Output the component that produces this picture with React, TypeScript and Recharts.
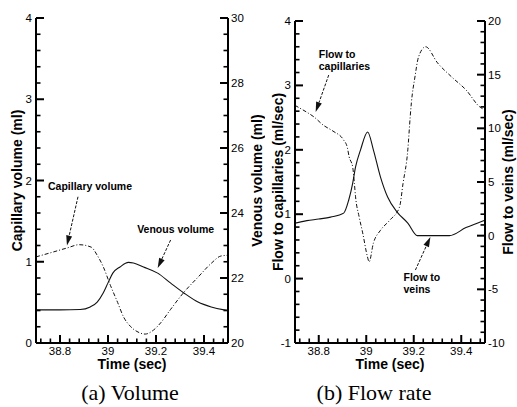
import React from "react";
import {
  ComposedChart,
  Line,
  XAxis,
  YAxis,
  ReferenceLine,
  ReferenceDot,
} from "recharts";

// ---------------------------------------------------------------------------
// Data
// ---------------------------------------------------------------------------

const TIME_DOMAIN: [number, number] = [38.7, 39.5];
const TIME_MAJOR = [38.8, 39, 39.2, 39.4];
const TIME_MINOR = [
  38.72, 38.76, 38.84, 38.88, 38.92, 38.96, 39.04, 39.08, 39.12, 39.16, 39.24,
  39.28, 39.32, 39.36, 39.44, 39.48,
];

// (a) volume
const CAP_VOL_DOMAIN: [number, number] = [0, 4];
const CAP_VOL_MAJOR = [0, 1, 2, 3, 4];
const CAP_VOL_MINOR = [
  0.2, 0.4, 0.6, 0.8, 1.2, 1.4, 1.6, 1.8, 2.2, 2.4, 2.6, 2.8, 3.2, 3.4, 3.6,
  3.8,
];
const VEN_VOL_DOMAIN: [number, number] = [20, 30];
const VEN_VOL_MAJOR = [20, 22, 24, 26, 28, 30];
const VEN_VOL_MINOR = [
  20.5, 21, 21.5, 22.5, 23, 23.5, 24.5, 25, 25.5, 26.5, 27, 27.5, 28.5, 29,
  29.5,
];

const capVolTime = [
  38.7, 38.76, 38.83, 38.88, 38.93, 38.955, 38.98, 39.01, 39.04, 39.065, 39.095,
  39.125, 39.155, 39.19, 39.22, 39.26, 39.315, 39.375, 39.43, 39.47, 39.5,
];
const capVolValue = [
  1.06, 1.11, 1.17, 1.21, 1.18, 1.08, 0.94, 0.71, 0.5, 0.32, 0.2, 0.135, 0.11,
  0.16, 0.25, 0.41, 0.62, 0.81, 0.98, 1.07, 1.08,
];

const venVolTime = [
  38.7, 38.8, 38.884, 38.926, 38.955, 38.98, 39.0, 39.02, 39.05, 39.085, 39.106,
  39.148, 39.207, 39.26, 39.316, 39.375, 39.43, 39.484, 39.5,
];
const venVolValue = [
  21.02, 21.02, 21.03, 21.11, 21.26, 21.54, 21.85, 22.15, 22.34, 22.48, 22.46,
  22.34, 22.15, 21.85, 21.54, 21.26, 21.11, 21.02, 21.0,
];

// (b) flow rate
const CAP_FLOW_DOMAIN: [number, number] = [-1, 4];
const CAP_FLOW_MAJOR = [-1, 0, 1, 2, 3, 4];
const CAP_FLOW_MINOR = [
  -0.8, -0.6, -0.4, -0.2, 0.2, 0.4, 0.6, 0.8, 1.2, 1.4, 1.6, 1.8, 2.2, 2.4, 2.6,
  2.8, 3.2, 3.4, 3.6, 3.8,
];
const VEN_FLOW_DOMAIN: [number, number] = [-10, 20];
const VEN_FLOW_MAJOR = [-10, -5, 0, 5, 10, 15, 20];
const VEN_FLOW_MINOR = [
  -9, -8, -7, -6, -4, -3, -2, -1, 1, 2, 3, 4, 6, 7, 8, 9, 11, 12, 13, 14, 16,
  17, 18, 19,
];

const capFlowTime = [
  38.7, 38.733, 38.78, 38.82, 38.86, 38.905, 38.92, 38.928, 38.943, 38.95,
  38.955, 38.97, 38.985, 39.005, 39.012, 39.03, 39.06, 39.1, 39.14, 39.155,
  39.175, 39.185, 39.19, 39.205, 39.22, 39.25, 39.3, 39.36, 39.42, 39.48, 39.5,
];
const capFlowValue = [
  2.69, 2.62, 2.51, 2.38, 2.29, 2.15, 2.04, 1.89, 1.73, 1.48, 1.27, 0.96, 0.71,
  0.34, 0.26, 0.55, 0.75, 0.91, 1.11, 1.48, 2.0, 2.51, 2.73, 3.13, 3.44, 3.6,
  3.35, 3.13, 2.93, 2.66, 2.62,
];

const venFlowTime = [
  38.7, 38.75, 38.8, 38.85, 38.905, 38.926, 38.943, 38.955, 38.976, 39.006,
  39.03, 39.06, 39.09, 39.13, 39.175, 39.215, 39.35, 39.42, 39.48, 39.5,
];
const venFlowValue = [
  1.17, 1.4, 1.55, 1.73, 2.1, 3.3, 4.9, 6.4, 8.0, 9.66, 8.0, 5.46, 3.6, 2.2,
  1.17, 0, 0, 0.75, 1.27, 1.45,
];

// ---------------------------------------------------------------------------
// Helpers
// ---------------------------------------------------------------------------

const SANS = "'Liberation Sans', Arial, Helvetica, sans-serif";
const SERIF = "'Liberation Serif', 'Times New Roman', serif";
const INK = "#111";
const TICK_INK = "#000";

const zip = (t: number[], v: number[]) => t.map((x, i) => ({ t: x, v: v[i] }));

const tickText = { fontFamily: SANS, fontSize: 11.5, fill: "#000" };
const axisTitle = { fontFamily: SANS, fontWeight: "bold", fontSize: 14, fill: "#000" };
const axisLine = { stroke: "#000", strokeWidth: 2 };

const LeftLabel = (p: any) => (
  <text x={p.x} y={p.y + 4} textAnchor="end" style={tickText}>
    {p.payload.value}
  </text>
);
const RightLabel = (p: any) => (
  <text x={p.x} y={p.y + 4} textAnchor="start" style={tickText}>
    {p.payload.value}
  </text>
);
const BottomLabel = (p: any) => (
  <text x={p.x} y={p.y + 12} textAnchor="middle" style={tickText}>
    {p.payload.value}
  </text>
);

// inward tick: a stub of fixed pixel length, drawn as a thin filled rectangle
function tickShape(len: number, width: number) {
  return (p: any) => {
    const x1 = Number(p.x1);
    const y1 = Number(p.y1);
    const x2 = Number(p.x2);
    const y2 = Number(p.y2);
    const horizontal = Math.abs(y2 - y1) < Math.abs(x2 - x1);
    if (horizontal) {
      const dir = x2 > x1 ? 1 : -1;
      const xa = dir > 0 ? x1 : x1 - len;
      return <rect x={xa} y={y1 - width / 2} width={len} height={width} fill={TICK_INK} />;
    }
    const dir = y2 > y1 ? 1 : -1;
    const ya = dir > 0 ? y1 : y1 - len;
    return <rect x={x1 - width / 2} y={ya} width={width} height={len} fill={TICK_INK} />;
  };
}
const MAJOR_TICK = tickShape(8, 2);
const MINOR_TICK = tickShape(4.5, 1.6);

type TickSet = { major: number[]; minor: number[] };

function frameTicks(leftDomain: [number, number], l: TickSet, r: TickSet) {
  const [t0, t1] = TIME_DOMAIN;
  const out: React.ReactNode[] = [];
  const add = (key: string, axis: string, a: any, b: any, major: boolean) =>
    out.push(
      <ReferenceLine
        key={key}
        yAxisId={axis}
        segment={[a, b]}
        ifOverflow="visible"
        shape={major ? MAJOR_TICK : MINOR_TICK}
      />,
    );
  l.major.forEach((v) => add("lM" + v, "left", { x: t0, y: v }, { x: t1, y: v }, true));
  l.minor.forEach((v) => add("lm" + v, "left", { x: t0, y: v }, { x: t1, y: v }, false));
  r.major.forEach((v) => add("rM" + v, "right", { x: t1, y: v }, { x: t0, y: v }, true));
  r.minor.forEach((v) => add("rm" + v, "right", { x: t1, y: v }, { x: t0, y: v }, false));
  TIME_MAJOR.forEach((t) =>
    add("bM" + t, "left", { x: t, y: leftDomain[0] }, { x: t, y: leftDomain[1] }, true),
  );
  TIME_MINOR.forEach((t) =>
    add("bm" + t, "left", { x: t, y: leftDomain[0] }, { x: t, y: leftDomain[1] }, false),
  );
  return out;
}

function Arrow(props: any) {
  const { x1, y1, x2, y2 } = props;
  const dx = x2 - x1;
  const dy = y2 - y1;
  const L = Math.hypot(dx, dy) || 1;
  const ux = dx / L;
  const uy = dy / L;
  const hl = 10;
  const hw = 3;
  const bx = x2 - ux * hl;
  const by = y2 - uy * hl;
  return (
    <g>
      <line x1={x1} y1={y1} x2={bx} y2={by} stroke={INK} strokeWidth={1} strokeDasharray="3 1.5" />
      <polygon
        points={`${x2},${y2} ${bx - uy * hw},${by + ux * hw} ${bx + uy * hw},${by - ux * hw}`}
        fill={INK}
      />
    </g>
  );
}

function makeNote(lines: string[], anchor: "start" | "middle") {
  return (props: any) => {
    const { cx, cy } = props;
    return (
      <text
        x={cx}
        y={cy}
        textAnchor={anchor}
        fontFamily={SANS}
        fontWeight="bold"
        fontSize={10.5}
        fill="#000"
      >
        {lines.map((s, i) => (
          <tspan key={s} x={cx} dy={i === 0 ? 0 : 12}>
            {s}
          </tspan>
        ))}
      </text>
    );
  };
}

function timeAxis() {
  return (
    <XAxis
      dataKey="t"
      type="number"
      domain={TIME_DOMAIN}
      ticks={TIME_MAJOR}
      interval={0}
      height={25}
      tickSize={0}
      tickMargin={0}
      tickLine={false}
      axisLine={axisLine}
      tick={BottomLabel}
      allowDataOverflow
    />
  );
}

function valueAxis(
  side: "left" | "right",
  domain: [number, number],
  ticks: number[],
  width: number,
  title: string,
  titleOffset: number,
) {
  return (
    <YAxis
      yAxisId={side}
      orientation={side}
      domain={domain}
      ticks={ticks}
      interval={0}
      width={width}
      tickSize={0}
      tickMargin={side === "left" ? 4 : 3}
      tickLine={false}
      axisLine={axisLine}
      tick={side === "left" ? LeftLabel : RightLabel}
      allowDataOverflow
      label={{
        value: title,
        angle: -90,
        position: side === "left" ? "insideLeft" : "insideRight",
        offset: titleOffset,
        style: { textAnchor: "middle" },
        ...axisTitle,
      }}
    />
  );
}

// ---------------------------------------------------------------------------
// Panels
// ---------------------------------------------------------------------------

function VolumeChart() {
  return (
    <ComposedChart width={265} height={368} margin={{ top: 18, right: 0, bottom: 0, left: 0 }}>
      {timeAxis()}
      {valueAxis("left", CAP_VOL_DOMAIN, CAP_VOL_MAJOR, 36, "Capillary volume (ml)", 17)}
      {valueAxis("right", VEN_VOL_DOMAIN, VEN_VOL_MAJOR, 37, "Venous volume (ml)", 8)}
      {frameTicks(
        CAP_VOL_DOMAIN,
        { major: CAP_VOL_MAJOR, minor: CAP_VOL_MINOR },
        { major: VEN_VOL_MAJOR, minor: VEN_VOL_MINOR },
      )}
      <Line
        yAxisId="left"
        data={zip(capVolTime, capVolValue)}
        dataKey="v"
        type="monotone"
        stroke={INK}
        strokeWidth={1}
        strokeDasharray="4 2 1 2"
        dot={false}
        isAnimationActive={false}
      />
      <Line
        yAxisId="right"
        data={zip(venVolTime, venVolValue)}
        dataKey="v"
        type="monotone"
        stroke={INK}
        strokeWidth={1.1}
        dot={false}
        isAnimationActive={false}
      />
      <ReferenceDot
        yAxisId="left"
        x={38.75}
        y={1.88}
        r={0}
        shape={makeNote(["Capillary volume"], "start")}
      />
      <ReferenceLine
        yAxisId="left"
        segment={[
          { x: 38.875, y: 1.8 },
          { x: 38.829, y: 1.2 },
        ]}
        shape={Arrow}
      />
      <ReferenceDot
        yAxisId="left"
        x={39.282}
        y={1.348}
        r={0}
        shape={makeNote(["Venous volume"], "middle")}
      />
      <ReferenceLine
        yAxisId="left"
        segment={[
          { x: 39.261, y: 1.268 },
          { x: 39.207, y: 0.923 },
        ]}
        shape={Arrow}
      />
    </ComposedChart>
  );
}

function FlowChart() {
  return (
    <ComposedChart width={255} height={368} margin={{ top: 21, right: 0, bottom: 0, left: 0 }}>
      {timeAxis()}
      {valueAxis("left", CAP_FLOW_DOMAIN, CAP_FLOW_MAJOR, 33, "Flow to capillaries (ml/sec)", 16)}
      {valueAxis("right", VEN_FLOW_DOMAIN, VEN_FLOW_MAJOR, 32, "Flow to veins (ml/sec)", 9)}
      {frameTicks(
        CAP_FLOW_DOMAIN,
        { major: CAP_FLOW_MAJOR, minor: CAP_FLOW_MINOR },
        { major: VEN_FLOW_MAJOR, minor: VEN_FLOW_MINOR },
      )}
      <Line
        yAxisId="left"
        data={zip(capFlowTime, capFlowValue)}
        dataKey="v"
        type="monotone"
        stroke={INK}
        strokeWidth={1}
        strokeDasharray="4 2 1 2"
        dot={false}
        isAnimationActive={false}
      />
      <Line
        yAxisId="right"
        data={zip(venFlowTime, venFlowValue)}
        dataKey="v"
        type="monotone"
        stroke={INK}
        strokeWidth={1.1}
        dot={false}
        isAnimationActive={false}
      />
      <ReferenceDot
        yAxisId="left"
        x={38.8}
        y={3.418}
        r={0}
        shape={makeNote(["Flow to", "capillaries"], "start")}
      />
      <ReferenceLine
        yAxisId="left"
        segment={[
          { x: 38.842, y: 3.161 },
          { x: 38.787, y: 2.587 },
        ]}
        shape={Arrow}
      />
      <ReferenceDot
        yAxisId="left"
        x={39.157}
        y={-0.03}
        r={0}
        shape={makeNote(["Flow to", "veins"], "start")}
      />
      <ReferenceLine
        yAxisId="left"
        segment={[
          { x: 39.207, y: 0.133 },
          { x: 39.27, y: 0.646 },
        ]}
        shape={Arrow}
      />
    </ComposedChart>
  );
}

// ---------------------------------------------------------------------------
// App
// ---------------------------------------------------------------------------

export default function App() {
  return (
    <div
      style={{
        position: "absolute",
        left: 0,
        top: 0,
        width: 517,
        height: 407,
        background: "#fff",
      }}
    >
      <div style={{ position: "absolute", left: 0, top: 0 }}>
        <VolumeChart />
      </div>
      <div style={{ position: "absolute", left: 262, top: 0 }}>
        <FlowChart />
      </div>
      <svg
        width={517}
        height={407}
        style={{ position: "absolute", left: 0, top: 0, pointerEvents: "none" }}
      >
        <text x={132} y={369} textAnchor="middle" style={axisTitle}>
          Time (sec)
        </text>
        <text x={390} y={369} textAnchor="middle" style={axisTitle}>
          Time (sec)
        </text>
        <text x={130} y={400} textAnchor="middle" fontFamily={SERIF} fontSize={22} fill="#000">
          (a) Volume
        </text>
        <text x={374} y={400} textAnchor="middle" fontFamily={SERIF} fontSize={22} fill="#000">
          (b) Flow rate
        </text>
      </svg>
    </div>
  );
}
